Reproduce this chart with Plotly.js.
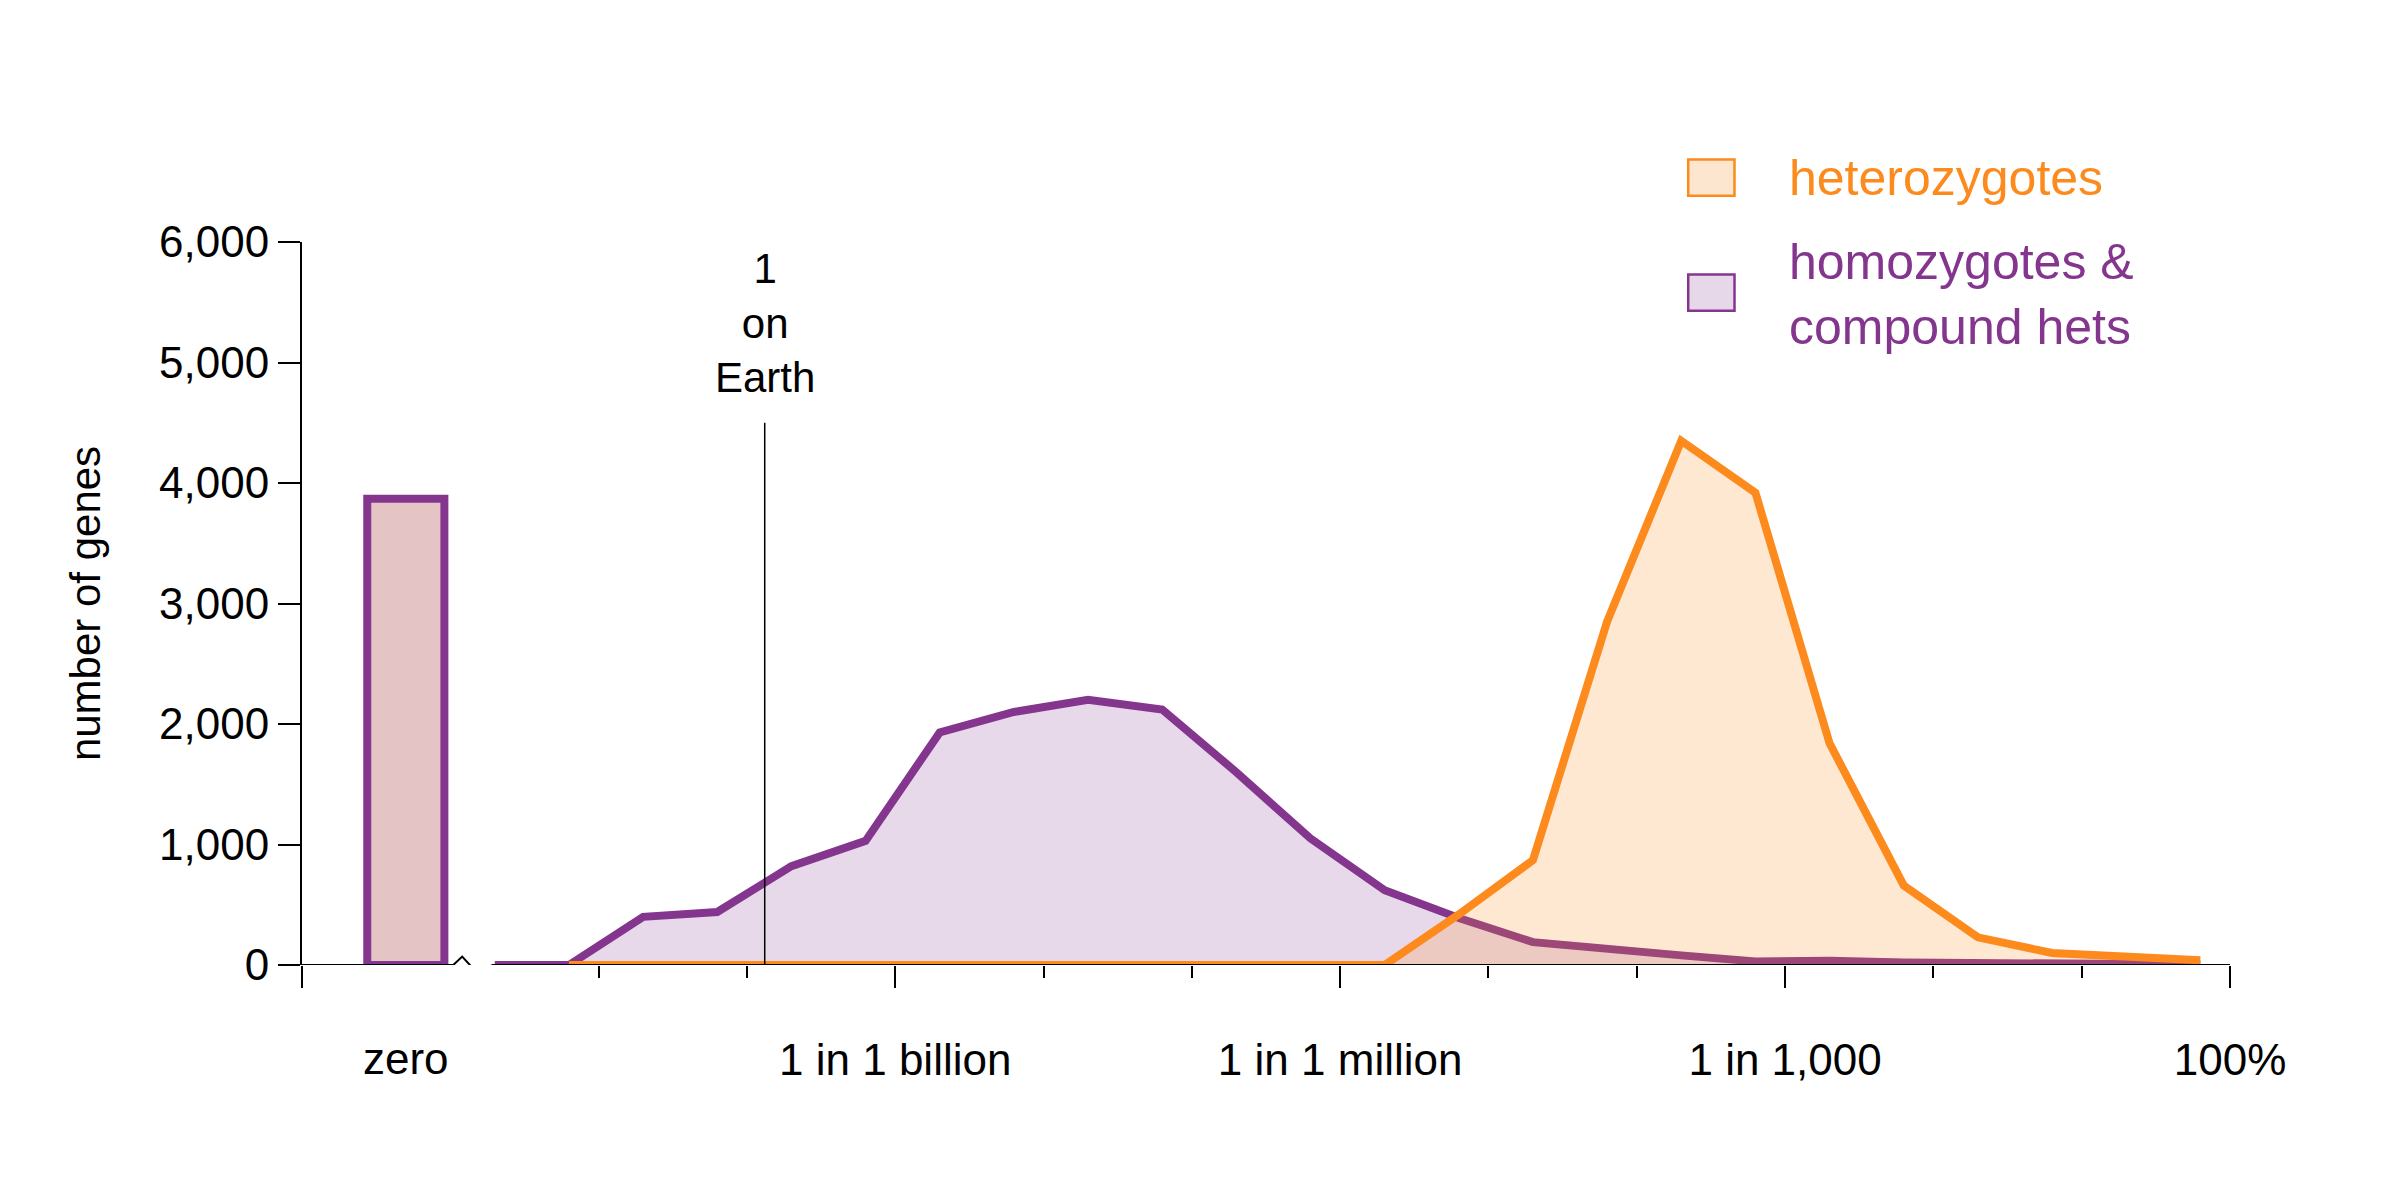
<!DOCTYPE html>
<html>
<head>
<meta charset="utf-8">
<script src="https://cdn.plot.ly/plotly-3.0.1.min.js"></script>
<style>body{margin:0;background:#fff}#chart{width:2400px;height:1200px}</style>
</head>
<body>
<div id="chart"></div>
<script>
// Bins are half-decade steps of log10(frequency)
const binLog = [-11.7, -11.2, -10.7, -10.2, -9.7, -9.2, -8.7, -8.2, -7.7, -7.2, -6.7, -6.2,
    -5.7, -5.2, -4.7, -4.2, -3.7, -3.2, -2.7, -2.2, -1.7, -1.2, -0.7, -0.2];
const homozygotes = [0, 0, 400, 440, 820, 1030, 1930, 2100, 2200, 2120, 1600, 1050,
    620, 390, 190, 130, 80, 30, 35, 20, 15, 10, 10, 5];
const heterozygotes = [null, 0, 0, 0, 0, 0, 0, 0, 0, 0, 0, 0,
    0, 420, 870, 2850, 4350, 3920, 1840, 660, 230, 100, 70, 40];
const zeroBarX = [-12.3];
const zeroBarY = [3870];
const earthLog = -9.88;
const earthHeight = 4500;
const tickVals = [-13, -9, -6, -3, 0];
const tickText = ["", "1 in 1 billion", "1 in 1 million", "1 in 1,000", "100%"];
const minorVals = [-11, -10, -8, -7, -5, -4, -2, -1];

const ORANGE = "#fd8a1c";
const PURPLE = "#84368f";
const FONT = "Liberation Sans, Arial, sans-serif";

const traces = [{
    type: "bar",
    x: zeroBarX, y: zeroBarY, width: [0.52],
    marker: { color: "#e5c4c6", line: { color: PURPLE, width: 8 } },
    hoverinfo: "skip",
}, {
    type: "scatter", mode: "lines",
    x: binLog, y: homozygotes,
    fill: "tozeroy", fillcolor: "rgba(132,54,143,0.19)",
    line: { color: PURPLE, width: 8 },
}, {
    type: "scatter", mode: "lines",
    x: binLog, y: heterozygotes,
    fill: "tozeroy", fillcolor: "rgba(253,138,28,0.2)",
    line: { color: ORANGE, width: 8 },
}, {
    type: "scatter", mode: "lines",
    x: [earthLog, earthLog], y: [0, earthHeight],
    line: { color: "#000", width: 1.5 },
}];

const layout = {
    width: 2400, height: 1200,
    margin: { l: 302, r: 170, t: 242, b: 235 },
    paper_bgcolor: "#fff", plot_bgcolor: "rgba(0,0,0,0)",
    showlegend: false,
    font: { family: FONT, size: 44, color: "#000" },
    xaxis: {
        range: [-13, 0], showgrid: false, zeroline: false,
        showline: false,
        tickmode: "array", tickvals: tickVals, ticktext: tickText,
        ticks: "outside", ticklen: 22, tickwidth: 2, tickcolor: "#000",
        ticklabelstandoff: 34,
        minor: { tickmode: "array", tickvals: minorVals, ticks: "outside", ticklen: 12, tickwidth: 2, tickcolor: "#000" },
    },
    yaxis: {
        range: [0, 6000], showgrid: false, zeroline: false,
        showline: true, linecolor: "#000", linewidth: 2,
        tickvals: [0, 1000, 2000, 3000, 4000, 5000, 6000],
        tickformat: ",d",
        ticks: "outside", ticklen: 22, tickwidth: 2, tickcolor: "#000",
        title: { text: "number of genes", font: { size: 42 }, standoff: 45 },
    },
    shapes: [
        // x axis line with a break after the "zero" bin
        { type: "line", xref: "x", yref: "y", x0: -13, x1: -11.98, y0: 0, y1: 0, line: { color: "#000", width: 2 } },
        { type: "line", xref: "x", yref: "y", x0: -11.72, x1: 0, y0: 0, y1: 0, line: { color: "#000", width: 2 } },
        { type: "path", xref: "x", yref: "y", path: "M -11.98 0 L -11.92 70 L -11.8 -90 L -11.72 0", line: { color: "#000", width: 2 } },
        // legend swatches
        { type: "rect", xref: "paper", yref: "paper", x0: 0.719, x1: 0.743, y0: 1.114, y1: 1.064, fillcolor: "#fde6cf", line: { color: ORANGE, width: 2.5 } },
        { type: "rect", xref: "paper", yref: "paper", x0: 0.719, x1: 0.743, y0: 0.955, y1: 0.905, fillcolor: "#e6d8e8", line: { color: PURPLE, width: 2.5 } },
    ],
    annotations: [
        { xref: "x", yref: "paper", x: -12.3, y: -0.13, text: "zero", showarrow: false, yanchor: "middle", font: { size: 44 } },
        { xref: "x", yref: "y", x: earthLog, y: earthHeight + 160, text: "1<br>on<br>Earth", showarrow: false, yanchor: "bottom", font: { size: 42 } },
        { xref: "paper", yref: "paper", x: 0.77, y: 1.089, text: "heterozygotes", showarrow: false, xanchor: "left", yanchor: "middle", font: { size: 50, color: ORANGE } },
        { xref: "paper", yref: "paper", x: 0.77, y: 0.928, text: "homozygotes &amp;<br>compound hets", showarrow: false, xanchor: "left", yanchor: "middle", align: "left", font: { size: 50, color: PURPLE } },
    ],
};

Plotly.newPlot("chart", traces, layout, { staticPlot: true });
</script>
</body>
</html>
